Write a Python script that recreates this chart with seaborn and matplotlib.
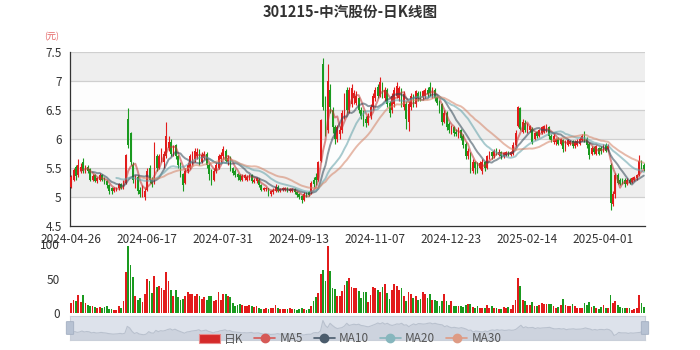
import numpy as np
import pandas as pd
import matplotlib
matplotlib.use("Agg")
import matplotlib.pyplot as plt
import seaborn as sns
from matplotlib.lines import Line2D
from matplotlib.patches import Patch

# ---------------- data ----------------
x_labels = ['2024-04-26', '2024-06-17', '2024-07-31', '2024-09-13',
            '2024-11-07', '2024-12-23', '2025-02-14', '2025-04-01']
label_step = 32

open_ = [5.18,5.30,5.52,5.38,5.45,5.60,5.45,5.52,5.48,5.30,
         5.38,5.28,5.30,5.38,5.32,5.28,5.20,5.15,5.10,5.12,
         5.15,5.22,5.15,5.25,6.35,6.10,5.55,5.20,5.35,5.12,
         5.05,5.00,5.12,5.50,5.30,5.25,5.70,5.50,5.65,5.60,
         5.70,5.85,5.95,5.75,5.90,5.70,5.55,5.40,5.25,5.45,
         5.50,5.60,5.65,5.70,5.80,5.60,5.68,5.75,5.55,5.45,
         5.30,5.45,5.50,5.65,5.70,5.80,5.60,5.68,5.50,5.45,
         5.40,5.38,5.30,5.33,5.30,5.32,5.38,5.26,5.28,5.30,
         5.20,5.12,5.13,5.15,5.05,5.08,5.10,5.18,5.10,5.12,
         5.12,5.16,5.10,5.10,5.14,5.08,5.05,5.02,4.95,5.05,
         5.08,5.08,5.30,5.35,5.30,5.62,7.30,6.50,6.15,6.85,
         6.50,6.20,6.00,6.08,6.15,6.40,6.85,6.50,6.60,6.70,
         6.62,6.70,6.50,6.45,6.35,6.28,6.40,6.55,6.70,6.90,
         6.75,6.95,6.70,6.85,6.62,6.50,6.60,6.75,6.70,6.85,
         6.55,6.60,6.30,6.55,6.75,6.60,6.80,6.78,6.72,6.75,
         6.85,6.90,6.75,6.85,6.72,6.65,6.60,6.30,6.45,6.25,
         6.12,6.20,6.12,6.05,6.15,6.05,5.92,5.70,5.75,5.45,
         5.60,5.55,5.50,5.45,5.60,5.50,5.68,5.78,5.70,5.82,
         5.72,5.77,5.70,5.72,5.78,5.72,5.75,5.90,6.22,6.53,
         6.12,6.28,6.12,6.15,6.18,6.00,6.12,6.05,6.10,6.12,
         6.15,6.20,6.05,5.95,5.95,6.00,5.92,5.98,5.82,5.90,
         5.92,5.96,5.88,5.90,5.92,5.98,6.10,6.00,5.92,5.75,
         5.85,5.75,5.85,5.85,5.80,5.90,5.82,5.55,4.88,5.05,
         5.38,5.30,5.30,5.30,5.22,5.30,5.26,5.30,5.33,5.38,
         5.60,5.55]

close = [5.35,5.46,5.36,5.55,5.52,5.45,5.52,5.45,5.30,5.36,
         5.28,5.32,5.38,5.30,5.27,5.20,5.10,5.10,5.15,5.15,
         5.22,5.15,5.25,5.72,5.90,5.60,5.30,5.35,5.10,5.05,
         5.15,5.10,5.45,5.30,5.22,5.75,5.50,5.70,5.80,5.75,
         6.05,5.95,5.75,5.85,5.70,5.55,5.40,5.20,5.45,5.55,
         5.70,5.75,5.80,5.78,5.60,5.72,5.75,5.55,5.40,5.30,
         5.45,5.55,5.70,5.72,5.82,5.62,5.68,5.50,5.42,5.38,
         5.35,5.30,5.36,5.38,5.35,5.38,5.28,5.30,5.32,5.20,
         5.12,5.15,5.16,5.05,5.10,5.12,5.18,5.10,5.13,5.15,
         5.16,5.10,5.13,5.14,5.08,5.04,5.00,4.95,5.05,5.02,
         5.04,5.25,5.22,5.30,5.60,6.32,6.55,6.10,7.00,6.55,
         6.20,6.00,6.20,6.15,6.45,6.70,6.50,6.85,6.88,6.80,
         6.75,6.50,6.40,6.30,6.28,6.40,6.55,6.75,6.85,6.75,
         6.98,6.75,6.85,6.60,6.45,6.75,6.85,6.92,6.88,6.60,
         6.78,6.35,6.60,6.75,6.60,6.82,6.70,6.70,6.82,6.85,
         6.78,6.80,6.88,6.70,6.62,6.50,6.30,6.45,6.20,6.15,
         6.20,6.10,6.08,6.15,6.02,5.90,5.70,5.80,5.50,5.60,
         5.50,5.48,5.58,5.60,5.50,5.70,5.76,5.70,5.80,5.76,
         5.78,5.70,5.76,5.78,5.73,5.78,5.90,6.10,6.55,6.18,
         6.30,6.15,6.25,6.22,5.95,6.10,6.05,6.15,6.20,6.22,
         6.22,6.05,5.98,6.05,6.00,5.92,6.00,5.82,5.95,5.98,
         5.96,5.88,5.95,5.96,6.00,6.05,5.98,5.90,5.72,5.85,
         5.78,5.88,5.75,5.80,5.88,5.80,5.88,4.90,5.05,5.38,
         5.25,5.22,5.25,5.22,5.30,5.25,5.32,5.35,5.38,5.62,
         5.52,5.48]

high = [5.38,5.50,5.55,5.65,5.58,5.67,5.55,5.55,5.50,5.40,
        5.40,5.35,5.42,5.40,5.35,5.30,5.22,5.18,5.18,5.18,
        5.25,5.25,5.30,5.75,6.53,6.12,5.60,5.38,5.38,5.18,
        5.20,5.15,5.50,5.55,5.35,5.95,5.75,5.75,5.85,5.80,
        6.30,6.05,6.00,5.90,5.92,5.72,5.60,5.42,5.50,5.60,
        5.75,5.80,5.85,5.85,5.82,5.78,5.80,5.78,5.58,5.48,
        5.50,5.60,5.75,5.78,5.88,5.82,5.72,5.70,5.52,5.48,
        5.42,5.40,5.40,5.40,5.38,5.40,5.40,5.33,5.35,5.32,
        5.22,5.18,5.18,5.16,5.12,5.15,5.22,5.20,5.15,5.17,
        5.18,5.18,5.15,5.16,5.15,5.10,5.07,5.04,5.08,5.08,
        5.10,5.28,5.35,5.42,5.62,6.34,7.40,6.75,7.30,6.95,
        6.55,6.25,6.25,6.22,6.50,6.80,6.90,6.90,6.95,6.85,
        6.82,6.72,6.55,6.50,6.40,6.45,6.60,6.80,6.90,6.95,
        7.07,6.98,6.90,6.88,6.65,6.80,6.90,6.98,6.92,6.88,
        6.82,6.65,6.65,6.80,6.78,6.85,6.83,6.82,6.85,6.88,
        6.90,6.98,6.90,6.88,6.75,6.68,6.62,6.50,6.48,6.30,
        6.25,6.22,6.18,6.20,6.18,6.08,5.95,5.85,5.78,5.65,
        5.62,5.60,5.62,5.65,5.62,5.72,5.80,5.80,5.83,5.84,
        5.82,5.80,5.78,5.80,5.80,5.80,5.95,6.15,6.57,6.55,
        6.35,6.32,6.28,6.25,6.20,6.12,6.14,6.18,6.22,6.25,
        6.26,6.22,6.08,6.08,6.02,6.03,6.02,6.00,5.98,6.00,
        5.98,5.98,5.98,6.00,6.03,6.08,6.13,6.03,5.95,5.88,
        5.88,5.90,5.87,5.88,5.92,5.93,5.92,5.58,5.10,5.42,
        5.42,5.33,5.32,5.32,5.33,5.32,5.35,5.37,5.40,5.73,
        5.63,5.58]

low = [5.15,5.28,5.30,5.35,5.42,5.42,5.42,5.42,5.28,5.28,
       5.26,5.25,5.28,5.28,5.22,5.15,5.05,5.05,5.08,5.10,
       5.12,5.13,5.14,5.22,5.85,5.55,5.25,5.15,5.05,5.00,
       5.00,4.95,5.10,5.25,5.18,5.22,5.45,5.48,5.60,5.50,
       5.68,5.80,5.70,5.70,5.65,5.50,5.35,5.10,5.22,5.42,
       5.48,5.55,5.60,5.65,5.55,5.58,5.65,5.50,5.30,5.20,
       5.28,5.42,5.48,5.60,5.65,5.60,5.55,5.45,5.38,5.35,
       5.30,5.28,5.28,5.30,5.28,5.30,5.25,5.24,5.25,5.18,
       5.10,5.10,5.10,5.02,5.02,5.05,5.08,5.08,5.08,5.10,
       5.10,5.08,5.08,5.08,5.05,5.00,4.96,4.90,4.93,5.00,
       5.02,5.06,5.18,5.20,5.28,5.60,6.50,6.05,6.10,6.45,
       6.10,5.92,5.95,6.00,6.10,6.35,6.45,6.45,6.55,6.60,
       6.58,6.45,6.35,6.22,6.20,6.25,6.35,6.50,6.65,6.70,
       6.72,6.70,6.65,6.55,6.38,6.45,6.55,6.70,6.65,6.55,
       6.50,6.17,6.14,6.50,6.55,6.55,6.65,6.65,6.68,6.70,
       6.72,6.75,6.70,6.65,6.58,6.45,6.25,6.28,6.15,6.10,
       6.08,6.05,6.05,6.02,5.98,5.85,5.65,5.65,5.42,5.42,
       5.40,5.42,5.48,5.39,5.45,5.48,5.65,5.66,5.68,5.72,
       5.70,5.66,5.68,5.70,5.70,5.70,5.72,5.88,6.20,6.15,
       6.10,6.12,6.10,6.12,5.92,5.98,6.02,6.03,6.08,6.10,
       6.12,6.00,5.95,5.92,5.90,5.90,5.90,5.78,5.80,5.88,
       5.90,5.85,5.85,5.88,5.90,5.96,5.95,5.85,5.65,5.72,
       5.75,5.72,5.72,5.75,5.78,5.77,5.80,4.77,4.85,4.98,
       5.22,5.20,5.22,5.18,5.20,5.22,5.24,5.28,5.30,5.36,
       5.48,5.45]

volume = [14.5,19,17,26,16,26,14.5,12,10.6,9.7,
          8,7.7,8,7,8,9.7,6,6,5,4.5,
          10.6,7.7,17,59,97,70,52,24,19,22,
          16,27,49,47,29,54,37,39,36,34,
          59,46,34,24,34,23,19,21,24,30,
          28,28,24,27,24,21,23,19,24,24,
          17,19,30,19,28,27,24,23,14.5,10.6,
          12,13.5,12,9.7,9.7,12,10.6,8.7,9.7,7,
          6.3,6,7,6.3,7,7,12,7,6.3,6.3,
          6.3,6,7,6.3,6,5,6.3,7,6.3,5,
          6,10.6,17,23,29,56,63,46,97,61,
          36,35,24,24,32,41,46,51,37,36,
          36,32,22,31,31,16,26,38,36,34,
          30,38,42,29,21,34,42,39,33,36,
          25,17,30,27,22,24,19,20,30,27,
          22,27,19,19,18,10.6,18,27,17,12,
          17,10.6,9.7,9.7,10.6,8.7,12,13.5,13,8.7,
          7,9.7,7,7,7,12,7,9.7,7,7,
          6,6,8,7,8,6,12,19,51,39,
          19,18,12,12,16,9.7,10.6,12,14,13.5,
          13.5,13,13,9.7,7,8,12,21,12,9.7,
          9.7,13,10.6,7,7,7,14,12,16,8.7,
          9.7,7,6.3,8.7,12,7,7,26,14,18,
          12,8.7,7,7,7,7,5,6,7,26,
          14.5,8]

ma_windows = [5, 10, 20, 30]
ma_names = ['MA5', 'MA10', 'MA20', 'MA30']

# ---------------- styling ----------------
sns.set_style("white")
plt.rcParams['font.family'] = ['Noto Sans CJK SC', 'DejaVu Sans']

UP, DOWN = '#e21b1b', '#1a9a1f'
ma_colors = ['#c23531', '#2f4554', '#61a0a8', '#d48265']
ma_legend_colors = ['#d65a57', '#4b5c6c', '#86b6bd', '#de9b84']
TXT = '#333333'

df = pd.DataFrame({'x': np.arange(len(close)), 'open': open_, 'close': close,
                   'high': high, 'low': low, 'volume': volume})
for w, name in zip(ma_windows, ma_names):
    df[name] = df['close'].rolling(w).mean()
up = df['close'] >= df['open']
cols = np.where(up, UP, DOWN)
n = len(df)

W, H = 700, 350
fig = plt.figure(figsize=(7, 3.5), dpi=100)

def rect(l, t, r, b):
    return [l / W, 1 - b / H, (r - l) / W, (b - t) / H]

# ---------------- price panel ----------------
ax = fig.add_axes(rect(70, 52, 645, 226))
ax.set_xlim(-0.5, n - 0.5)
ax.set_ylim(4.5, 7.5)
levels = np.arange(4.5, 7.51, 0.5)
for k in range(len(levels) - 1):
    ax.axhspan(levels[k], levels[k + 1],
               color='#fdfdfd' if k % 2 == 0 else '#eeeeee', zorder=0, lw=0)
for lv in levels[1:]:
    ax.axhline(lv, color='#cfcfcf', lw=0.9, zorder=0.5)

ax.vlines(df['x'], df['low'], df['high'], colors=cols, lw=0.8, zorder=2)
body = (df['close'] - df['open']).abs().clip(lower=0.008)
ax.bar(df['x'], body, bottom=df[['open', 'close']].min(axis=1),
       width=0.7, color=cols, lw=0, zorder=3)

for name, c in zip(ma_names, ma_colors):
    sns.lineplot(data=df, x='x', y=name, ax=ax, color=c, lw=1.4,
                 alpha=0.55, zorder=4, legend=False)

ax.set_xlabel('')
ax.set_ylabel('')
for s in ['top', 'right']:
    ax.spines[s].set_visible(False)
for s in ['left', 'bottom']:
    ax.spines[s].set_color(TXT)
    ax.spines[s].set_linewidth(0.9)
ax.set_yticks(levels)
ax.set_yticklabels(['4.5', '5', '5.5', '6', '6.5', '7', '7.5'])
ax.tick_params(axis='y', length=4, width=0.8, color=TXT, pad=2,
               labelsize=8.5, labelcolor=TXT)
lab_pos = np.arange(len(x_labels)) * label_step
ax.set_xticks(lab_pos)
ax.set_xticklabels(x_labels)
ax.tick_params(axis='x', which='major', length=0, pad=5,
               labelsize=8.5, labelcolor=TXT)
ax.set_xticks(list(lab_pos - 0.5) + [n - 0.5], minor=True)
ax.tick_params(axis='x', which='minor', length=4, width=0.8, color=TXT)

fig.text(52 / W, 1 - 37 / H, '(元)', fontsize=6.5, color='#e46464',
         ha='center', va='center')
fig.text(0.5, 1 - 12 / H, '301215-中汽股份-日K线图', fontsize=10.5,
         fontweight='bold', color=TXT, ha='center', va='center')

# ---------------- volume panel ----------------
vax = fig.add_axes(rect(70, 244, 645, 313))
vax.set_xlim(-0.5, n - 0.5)
vax.set_ylim(0, 100)
vax.bar(df['x'], df['volume'], width=0.75, color=cols, lw=0)
for s in vax.spines.values():
    s.set_visible(False)
vax.set_xticks([])
vax.set_yticks([0, 50, 100])
vax.set_yticklabels(['0', '50', '100'])
vax.tick_params(axis='y', length=0, pad=7, labelsize=8.5, labelcolor=TXT)
vax.set_facecolor('none')

# ---------------- slider (data shadow of open prices) ----------------
sax = fig.add_axes(rect(70, 316, 645, 340))
sax.set_xlim(0, n - 1)
lo, hi = min(open_), max(open_)
pad = (hi - lo) * 0.3
sax.set_ylim(lo - pad, hi + pad)
sax.set_facecolor('#dde2eb')
sax.fill_between(df['x'], df['open'], lo - pad, color='#cdd3de', lw=0)
sax.plot(df['x'], df['open'], color='#b9c1ce', lw=0.8)
sax.set_xticks([])
sax.set_yticks([])
for s in sax.spines.values():
    s.set_color('#c9cfd9')
    s.set_linewidth(0.8)
for hx in (70, 645):
    fig.patches.append(matplotlib.patches.FancyBboxPatch(
        ((hx - 3) / W, 1 - 334 / H), 6 / W, 12 / H,
        boxstyle='round,pad=0.001', transform=fig.transFigure,
        facecolor='#b7c2d3', edgecolor='#a3afc2', lw=0.6, zorder=5))

# ---------------- legend ----------------
handles = [Patch(facecolor='#d42a2a', edgecolor='#e88a8a', lw=0.8)]
for c in ma_legend_colors:
    handles.append(Line2D([0], [0], color=c, lw=1.2, marker='o', ms=6,
                          markerfacecolor=c, markeredgecolor=c))
leg = fig.legend(handles, ['日K'] + ma_names, loc='center',
                 bbox_to_anchor=(0.5, 1 - 339 / H), ncol=5, frameon=False,
                 fontsize=8.5, handlelength=1.8, handleheight=0.8,
                 handletextpad=0.35, columnspacing=0.9, borderpad=0)
for t in leg.get_texts():
    t.set_color('#555555')

fig.savefig('out.png', dpi=100)
